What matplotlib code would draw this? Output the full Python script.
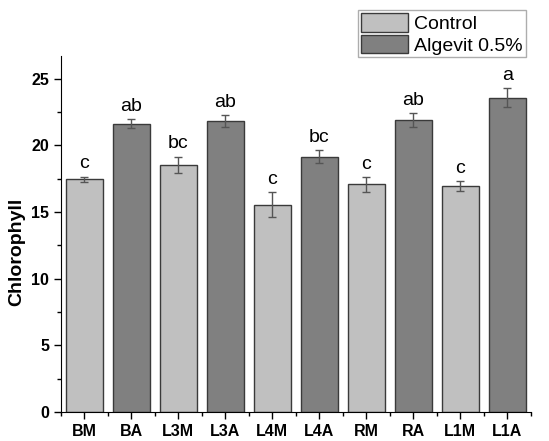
import matplotlib.pyplot as plt
from matplotlib.patches import Patch
from matplotlib.ticker import MultipleLocator

plt.rcParams["font.family"] = ["Liberation Sans", "DejaVu Sans"]

categorias = ["BM", "BA", "L3M", "L3A", "L4M", "L4A", "RM", "RA", "L1M", "L1A"]
clorofila = [17.45, 21.63, 18.55, 21.8, 15.55, 19.15, 17.08, 21.9, 16.95, 23.58]
errores = [0.2, 0.34, 0.6, 0.46, 0.93, 0.5, 0.56, 0.52, 0.38, 0.72]
letras = ["c", "ab", "bc", "ab", "c", "bc", "c", "ab", "c", "a"]
grupo = ["Control", "Algevit 0.5%"] * 5

colores = {"Control": "#c0c0c0", "Algevit 0.5%": "#808080"}
borde = "#3a3a3a"


def main():

    fig = plt.figure(figsize=(5.49, 4.41), dpi=100)
    ax = fig.add_axes([0.111, 0.066, 0.856, 0.807])

    x = list(range(len(categorias)))

    ax.bar(
        x,
        clorofila,
        width=0.8,
        color=[colores[g] for g in grupo],
        edgecolor=borde,
        linewidth=1.0,
        yerr=errores,
        error_kw={"ecolor": "#555555", "elinewidth": 1.0, "capsize": 3, "capthick": 1.0},
        zorder=2,
    )

    for xi, yi, ei, letra in zip(x, clorofila, errores, letras):
        ax.annotate(
            letra,
            (xi, yi + ei),
            xytext=(0, 3),
            textcoords="offset points",
            ha="center",
            va="bottom",
            fontsize=14,
        )

    ax.set_xlim(-0.5, 9.5)
    ax.set_ylim(0, 26.7)

    ax.set_xticks(x)
    ax.set_xticklabels(categorias, fontweight="bold", fontsize=11.5)
    ax.xaxis.set_minor_locator(MultipleLocator(1, offset=0.5))

    ax.yaxis.set_major_locator(MultipleLocator(5))
    ax.yaxis.set_minor_locator(MultipleLocator(2.5))
    for lab in ax.get_yticklabels():
        lab.set_fontweight("bold")
        lab.set_fontsize(11.5)

    ax.tick_params(which="major", direction="out", length=5, width=1)
    ax.tick_params(which="minor", direction="out", length=3, width=1)

    ax.spines["top"].set_visible(False)
    ax.spines["right"].set_visible(False)

    ax.set_ylabel("Chlorophyll", fontweight="bold", fontsize=14)
    ax.yaxis.set_label_coords(-0.075, 0.45)

    handles = [
        Patch(facecolor=colores["Control"], edgecolor=borde, label="Control"),
        Patch(facecolor=colores["Algevit 0.5%"], edgecolor=borde, label="Algevit 0.5%"),
    ]
    fig.legend(
        handles=handles,
        loc="upper right",
        bbox_to_anchor=(0.958, 0.977),
        fontsize=14,
        frameon=True,
        fancybox=False,
        edgecolor="#999999",
        handlelength=2.4,
        handleheight=1.1,
        handletextpad=0.35,
        borderpad=0.15,
        labelspacing=0.08,
        borderaxespad=0,
    )

    fig.savefig("out.png", dpi=100)
    plt.close(fig)


if __name__ == "__main__":
    main()
